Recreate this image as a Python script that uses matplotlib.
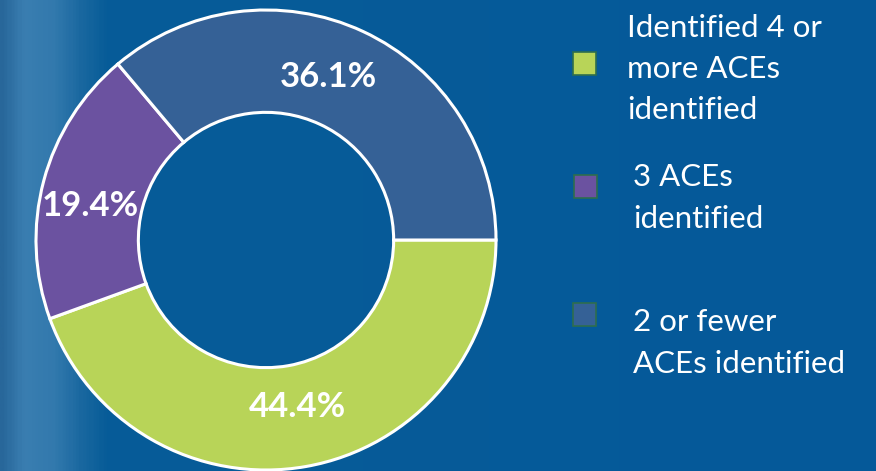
import matplotlib.pyplot as plt
import numpy as np
from matplotlib.colors import LinearSegmentedColormap
from matplotlib.patches import Rectangle

# data
labels = ["Identified 4 or\nmore ACEs\nidentified", "3 ACEs\nidentified", "2 or fewer\nACEs identified"]
values = [44.4, 19.4, 36.1]
colors = ["#B8D458", "#6B52A0", "#356196"]

W, H = 876, 471
fig = plt.figure(figsize=(W / 100, H / 100), dpi=100)

# background with a lighter streak on the left edge
bg = fig.add_axes([0, 0, 1, 1])
grad = LinearSegmentedColormap.from_list(
    "bg", [(0, "#28679A"), (0.025, "#3A7EB1"), (0.06, "#3279AD"),
           (0.09, "#1A68A0"), (0.12, "#075C98"), (1, "#05599A")])
bg.imshow(np.linspace(0, 1, 600)[None, :], aspect="auto", cmap=grad, extent=[0, 1, 0, 1])
bg.axis("off")

# donut
cx, cy, r = 266, 240, 230
ax = fig.add_axes([(cx - r) / W, (H - cy - r) / H, 2 * r / W, 2 * r / H])
wedges, _ = ax.pie(values, colors=colors, startangle=0, counterclock=False,
                   radius=1, wedgeprops=dict(width=0.445, edgecolor="white", linewidth=2.2))
ax.set_xlim(-1.0, 1.0)
ax.set_ylim(-1.0, 1.0)
ax.set_aspect("auto")
ax.axis("off")

dists = [0.74, 0.78, 0.76]
shifts = [0.5, 4, 4]
for w, v, d, s in zip(wedges, values, dists, shifts):
    ang = np.deg2rad((w.theta1 + w.theta2) / 2 + s)
    ax.text(d * np.cos(ang), d * np.sin(ang), f"{v:.1f}%", ha="center", va="center",
            color="white", fontsize=25, fontweight="bold", family="Lato")

# legend
box_y = [64, 187, 315]
box_x = [573, 574, 573]
text_x = [627, 633, 633]
text_y = [69, 198, 343]
for lab, c, bx, by, tx, ty in zip(labels, colors, box_x, box_y, text_x, text_y):
    fig.patches.append(Rectangle(((bx) / W, (H - by - 11) / H), 23 / W, 23 / H,
                                 transform=fig.transFigure, facecolor=c,
                                 edgecolor="#2E6E4E", linewidth=1.2))
    fig.text(tx / W, (H - ty) / H, lab, ha="left", va="center", color="white",
             fontsize=22.5, family="Lato", linespacing=1.58)

fig.savefig("out.png", dpi=100)
